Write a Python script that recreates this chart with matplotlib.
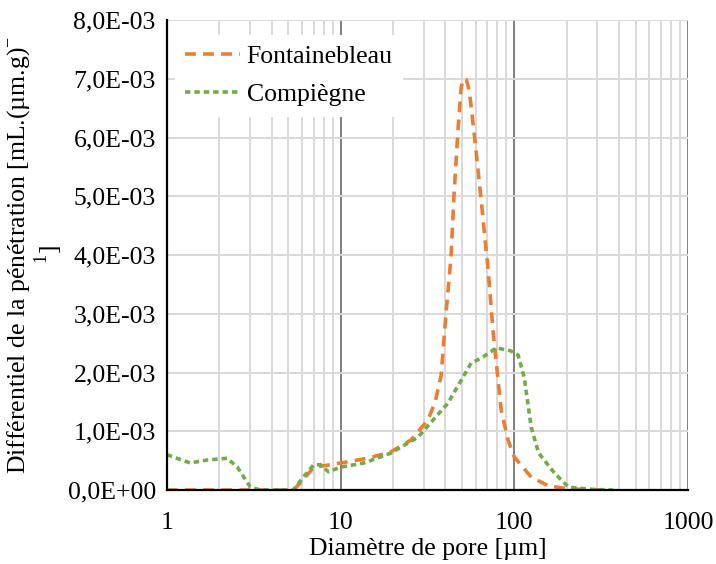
import numpy as np
import matplotlib
matplotlib.use('Agg')
from matplotlib import pyplot as plt
from matplotlib.ticker import LogLocator, NullFormatter

plt.rcParams['font.family'] = ['Liberation Serif', 'DejaVu Serif']
plt.rcParams['mathtext.fontset'] = 'custom'
plt.rcParams['mathtext.rm'] = 'Liberation Serif'

# data (diametre in um, value in mL/(um.g))
fb_x = [1, 2, 3, 4, 5.35, 6.2, 7.0, 7.9, 10, 14.3, 19.5, 25.4, 31.8, 35, 37.9, 40.4, 43.2,
        45, 47.5, 49.4, 51, 53, 55, 58.7, 64.4, 70.7, 75.6, 84, 92, 100, 125, 157, 205, 280, 340]
fb_y = [0, 0, 0, 0, 0, 0.2e-3, 0.39e-3, 0.41e-3, 0.46e-3, 0.54e-3, 0.65e-3, 0.85e-3, 1.19e-3,
        1.5e-3, 1.95e-3, 3.0e-3, 3.97e-3, 5.05e-3, 6.18e-3, 6.85e-3, 7.0e-3, 6.98e-3, 6.8e-3,
        6.08e-3, 4.94e-3, 3.74e-3, 2.67e-3, 1.36e-3, 0.85e-3, 0.56e-3, 0.22e-3, 0.07e-3,
        0.02e-3, 0.005e-3, 0.0]

cp_x = [1, 1.36, 1.70, 2.22, 2.54, 3.02, 3.45, 5.35, 6.1, 7.0, 7.66, 8.5, 10, 13.6, 19.5,
        27.9, 41.5, 56.4, 65, 73.6, 78.7, 95, 105, 114, 125, 138, 170, 205, 280, 370]
cp_y = [0.6e-3, 0.46e-3, 0.51e-3, 0.54e-3, 0.39e-3, 0.05e-3, 0, 0, 0.22e-3, 0.43e-3,
        0.43e-3, 0.31e-3, 0.39e-3, 0.46e-3, 0.63e-3, 0.9e-3, 1.48e-3, 2.16e-3, 2.25e-3,
        2.36e-3, 2.42e-3, 2.37e-3, 2.3e-3, 1.92e-3, 1.07e-3, 0.63e-3, 0.29e-3, 0.05e-3,
        0.01e-3, 0.0]

y_ticks = [0, 1e-3, 2e-3, 3e-3, 4e-3, 5e-3, 6e-3, 7e-3, 8e-3]
y_labels = ['0,0E+00', '1,0E-03', '2,0E-03', '3,0E-03', '4,0E-03',
            '5,0E-03', '6,0E-03', '7,0E-03', '8,0E-03']
x_ticks = [1, 10, 100, 1000]
x_labels = ['1', '10', '100', '1000']

fig = plt.figure(figsize=(7.16, 5.64), dpi=100)
ax = fig.add_axes([0.2332, 0.1312, 0.7277, 0.8333])

ax.plot(fb_x, fb_y, color='#ED7D31', lw=2.6, dashes=(3.0, 2.0), label='Fontainebleau')
ax.plot(cp_x, cp_y, color='#70AD47', lw=2.6, dashes=(1.5, 1.1), label='Compiègne')

ax.set_xscale('log')
ax.set_xlim(1, 1000)
ax.set_ylim(0, 8e-3)
ax.set_xticks(x_ticks)
ax.set_xticklabels(x_labels)
ax.xaxis.set_minor_locator(LogLocator(base=10, subs=np.arange(2, 10)))
ax.xaxis.set_minor_formatter(NullFormatter())
ax.set_yticks(y_ticks)
ax.set_yticklabels(y_labels)

ax.grid(True, which='minor', axis='x', color='#D9D9D9', lw=1.4)
ax.grid(True, which='major', axis='x', color='#808080', lw=1.4)
ax.grid(True, which='major', axis='y', color='#D9D9D9', lw=1.4)
ax.set_axisbelow(True)

ax.tick_params(which='both', length=0, labelsize=18.5)
ax.tick_params(axis='x', pad=16)
ax.tick_params(axis='y', pad=8)
for s in ['top', 'right']:
    ax.spines[s].set_visible(False)
ax.spines['left'].set_linewidth(1.6)
ax.spines['bottom'].set_linewidth(1.6)

ax.set_xlabel('Diamètre de pore [µm]', fontsize=18.5, labelpad=3)
ax.set_ylabel('Différentiel de la pénétration [mL.(µm.g)$^{-}$\n$^{1}$]',
              fontsize=18.5, labelpad=2, linespacing=1.0)

leg = ax.legend(loc='upper left', bbox_to_anchor=(0.0, 0.985), frameon=True,
                fontsize=18.5, handlelength=2.15, handletextpad=0.25,
                borderaxespad=0.3, labelspacing=0.6)
leg.get_frame().set_edgecolor('none')
leg.get_frame().set_facecolor('white')
leg.get_frame().set_alpha(1)

fig.savefig('out.png', dpi=100)
